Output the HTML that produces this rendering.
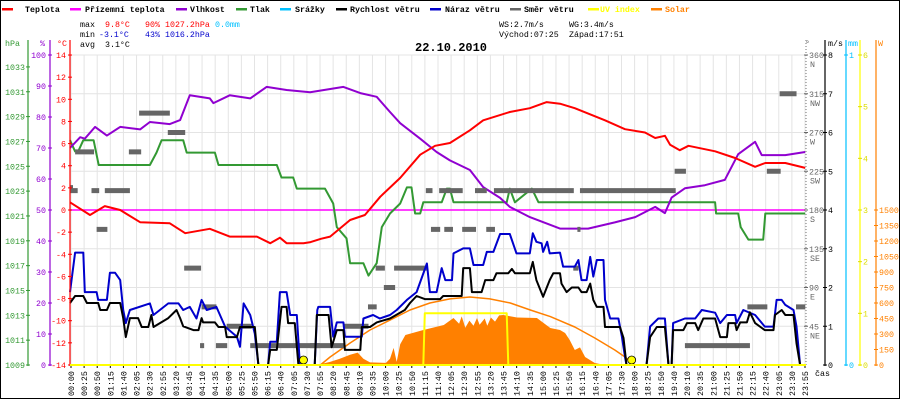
<!DOCTYPE html>
<html><head><meta charset="utf-8"><style>
html,body{margin:0;padding:0;background:#fff;}
svg{display:block;font-family:"Liberation Mono",monospace;}
</style></head><body>
<svg id="chart" width="900" height="400" viewBox="0 0 900 400" xmlns="http://www.w3.org/2000/svg">
<rect x="0.5" y="0.5" width="899" height="398" fill="#fff" stroke="#000"/>
<g id="grid"></g>
<g id="series"></g>
<g id="axes"></g>
<g font-size="8.3" font-weight="bold">
 <g><rect x="2" y="8" width="11" height="2.5" fill="#f00"/><text x="25" y="12">Teplota</text></g>
 <g><rect x="70" y="8" width="11" height="2.5" fill="#f0f"/><text x="85" y="12">Přízemní teplota</text></g>
 <g><rect x="176" y="8" width="11" height="2.5" fill="#9000d0"/><text x="190" y="12">Vlhkost</text></g>
 <g><rect x="236" y="8" width="11" height="2.5" fill="#339933"/><text x="250" y="12">Tlak</text></g>
 <g><rect x="280" y="8" width="11" height="2.5" fill="#00c0ff"/><text x="295" y="12">Srážky</text></g>
 <g><rect x="336" y="8" width="11" height="2.5" fill="#000"/><text x="350" y="12">Rychlost větru</text></g>
 <g><rect x="430" y="8" width="11" height="2.5" fill="#0000cc"/><text x="445" y="12">Náraz větru</text></g>
 <g><rect x="510" y="8" width="11" height="2.5" fill="#666"/><text x="524" y="12">Směr větru</text></g>
 <g><rect x="588" y="8" width="11" height="2.5" fill="#ff0"/><text x="600" y="12" fill="#ff0">UV index</text></g>
 <g><rect x="651" y="8" width="11" height="2.5" fill="#ff8000"/><text x="665" y="12" fill="#ff8000">Solar</text></g>
</g>
<g font-size="8.3">
 <text x="80" y="27">max</text><text x="105" y="27" fill="#f00">9.8°C</text><text x="145" y="27" fill="#f00">90%</text><text x="165" y="27" fill="#f00">1027.2hPa</text><text x="215" y="27" fill="#00c0ff">0.0mm</text>
 <text x="80" y="37">min</text><text x="99" y="37" fill="#00c">-3.1°C</text><text x="145" y="37" fill="#00c">43%</text><text x="165" y="37" fill="#00c">1016.2hPa</text>
 <text x="80" y="47">avg</text><text x="105" y="47">3.1°C</text>
 <text x="499" y="27">WS:2.7m/s</text><text x="569" y="27">WG:3.4m/s</text>
 <text x="499" y="37">Východ:07:25</text><text x="569" y="37">Západ:17:51</text>
</g>
<text x="415" y="51" font-size="12" font-weight="bold">22.10.2010</text>
</svg>
<script>
const tempT=[0,39,68,98,137,195,225,273,312,365,391,410,423,456,470,490,508,547,576,606,645,684,713,742,781,807,859,898,931,957,986,1045,1084,1123,1143,1162,1172,1191,1208,1260,1299,1338,1358,1397,1436];
const tempV=[0.7,-0.45,0.35,0,-1.1,-1.2,-2.1,-1.7,-2.4,-2.4,-3.0,-2.5,-3.0,-3.0,-2.9,-2.6,-2.4,-0.9,-0.45,1.2,2.9,5.0,5.8,6.05,7.2,8.1,8.85,9.2,9.75,9.6,9.2,8.1,7.3,7.0,6.5,6.7,5.9,5.4,5.8,5.3,4.7,3.9,4.25,4.25,3.8];
const humT=[0,20,29,49,72,98,137,156,195,215,234,273,280,312,352,384,423,469,534,567,599,625,645,684,716,742,781,807,840,859,898,957,1012,1064,1104,1143,1162,1175,1201,1240,1279,1305,1338,1351,1397,1436];
const humV=[70,73.5,73,76.8,74,76.8,76,78.4,77.7,79,87,86,84.5,87,86,89.7,88.7,88,89.7,87.7,86.5,81.6,78,73,68.7,66,62.9,57.4,53.9,51,47.7,44,44,46,47.7,51,49,54,57,58,59.7,68,72,67.7,67.7,68.7];
const presT=[0,10,16,26,46,56,156,169,179,221,228,283,290,404,413,436,443,498,514,521,540,547,573,583,599,609,625,645,658,667,674,684,690,726,736,742,749,853,859,869,902,915,1260,1262,1305,1310,1325,1354,1358,1436];
const presV=[1027.1,1026.2,1026.2,1027.1,1027.1,1025.1,1025.1,1026.1,1027.1,1027.1,1026.1,1026.1,1025.1,1025.1,1024.1,1024.1,1023.2,1023.2,1022,1020.1,1019.2,1017.2,1017.2,1016.2,1017.2,1020.1,1021.2,1022,1023.3,1023.3,1021.2,1021.2,1022.1,1022.1,1023.2,1023.2,1022.1,1022.1,1023.2,1022.1,1023.2,1022.1,1022.1,1021.2,1021.2,1020.1,1019.1,1019.1,1021.2,1021.2];
const windT=[0,10,26,33,55,59,72,78,98,104,109,117,133,140,153,159,163,192,208,215,221,241,251,257,260,283,290,303,306,326,332,361,368,387,391,404,413,423,426,439,446,478,482,505,511,521,534,537,567,570,586,599,625,654,664,677,693,723,729,765,768,781,785,804,811,827,833,856,863,869,898,904,911,924,937,944,957,960,970,980,993,999,1009,1016,1022,1029,1042,1045,1074,1081,1087,1126,1133,1146,1162,1169,1175,1178,1198,1205,1221,1227,1237,1260,1270,1283,1286,1299,1302,1309,1322,1328,1338,1357,1374,1377,1390,1397,1413,1419,1426];
const windV=[1.6,1.78,1.78,1.6,1.6,1.42,1.42,1.6,1.6,1.21,0.72,1.21,1.21,0.98,0.98,1.29,0.98,1.21,1.42,1.21,1.0,0.9,0.9,1.21,1.1,1.1,0.98,0.98,0.72,0.72,0.98,0.98,0,0,0.39,0.39,1.5,1.5,1.08,1.08,0,0,1.29,1.29,0.46,0.9,0.9,0.39,0.39,0.98,0.98,1.1,1.2,1.42,1.6,1.78,1.7,1.7,1.78,1.78,2.5,2.5,1.88,1.88,2.19,2.19,2.37,2.37,2.48,2.37,2.37,2.66,2.19,1.76,2.19,2.37,2.37,2.1,1.88,2.0,2.0,1.88,1.88,2.1,1.68,1.5,1.5,0.98,0.98,0.7,0,0,0.72,0.98,0.98,0,0,0.9,0.9,1.08,1.08,0.9,1.2,1.2,0.72,0.72,1.08,1.08,0.9,1.1,1.1,1.36,1.08,0.9,0.9,1.29,1.42,1.29,1.29,0.56,0];
const gustT=[0,10,26,29,52,55,72,78,88,98,104,109,117,156,163,192,212,221,234,247,257,267,286,303,326,332,339,352,361,368,387,391,404,410,423,430,443,449,478,483,485,508,514,521,534,537,570,573,592,605,625,638,658,677,697,703,716,726,733,746,749,768,781,788,807,814,827,840,859,872,898,904,911,921,924,932,937,957,963,986,993,999,1009,1016,1022,1029,1042,1045,1055,1071,1078,1084,1087,1126,1133,1149,1162,1169,1175,1178,1201,1221,1234,1260,1270,1283,1299,1302,1315,1338,1357,1374,1380,1390,1397,1413,1419,1426];
const gustV=[1.88,2.9,2.9,1.88,1.88,1.68,1.68,2.38,2.38,2.19,1.42,1.08,1.42,1.59,1.29,1.59,1.59,1.42,1.5,1.2,1.68,1.42,1.5,0.99,0.73,0.47,1.59,1.29,0.81,0,0,0.6,0.6,1.88,1.88,1.29,1.29,0,0,1.42,1.5,1.5,0.73,1.1,1.1,0.73,0.73,1.2,1.29,1.2,1.29,1.42,1.68,1.88,2.62,1.88,1.88,2.5,2.19,2.19,2.88,3.01,3.01,2.58,2.58,2.92,2.92,3.38,3.38,2.88,2.88,3.4,3.18,3.14,2.92,3.18,2.88,2.9,2.54,2.54,2.71,2.19,2.19,2.79,2.28,2.71,2.71,1.68,1.2,1.2,0.73,0.21,0,0,0.99,1.2,1.2,0,0,1.08,1.2,1.2,1.42,1.35,1.08,1.29,1.29,1.08,1.42,1.29,0.99,0.99,1.68,1.68,1.55,1.42,0.99,0];
const dirStart=[0,0,10,42,52,68,115,135,191,223,254,257,285,306,352,469,534,582,597,613,633,695,705,721,731,766,791,813,828,996,983,991,1181,1201,1323,1361,1386,1418];
const dirEnd=[5,15,47,57,73,117,139,195,225,256,262,286,307,355,488,537,583,599,615,635,697,708,723,767,748,793,814,830,984,1183,993,997,1203,1328,1362,1388,1419,1436];
const dirDeg=[206,202.5,247.5,202.5,157.5,202.5,247.5,292.5,270,112.5,22.5,67.5,22.5,45,22.5,22.5,45,67.5,112.5,90,112.5,202.5,157.5,202.5,157.5,157.5,202.5,157.5,202.5,202.5,112.5,157.5,225,22.5,67.5,225,315,67.5];
const solT=[480,490,508,527,547,562,573,586,617,625,632,638,645,655,690,730,749,760,765,772,780,788,795,800,810,815,822,830,838,846,873,912,938,957,967,976,986,996,1006,1025,1045];
const solV=[0,10,30,60,100,120,60,25,20,60,165,30,200,290,339,387,455,400,470,360,430,380,455,390,450,380,460,420,480,484,460,455,358,339,310,242,145,170,77,19,0];
const theoT=[489,508,547,586,625,664,703,742,781,820,860,899,938,986,1025,1064,1084,1103];
const theoV=[0,77,213,339,435,532,600,640,658,640,600,532,468,368,261,145,77,0];
const uvT=[0,690,693,853,856,1436];
const uvV=[0,0,1,1,0,0];
const groundT=[0,1436];
const groundV=[0,0];
const timeLabels=["00:00","00:25","00:50","01:15","01:40","02:05","02:30","02:55","03:20","03:45","04:10","04:35","05:00","05:25","05:50","06:15","06:40","07:05","07:30","07:55","08:20","08:45","09:10","09:35","10:00","10:25","10:50","11:15","11:40","12:05","12:30","12:55","13:20","13:45","14:10","14:35","15:00","15:25","15:50","16:15","16:40","17:05","17:30","18:00","18:25","18:50","19:40","20:10","20:35","21:00","21:25","21:50","22:15","22:40","23:05","23:30","23:55"];
const hpaTicks=[1009,1011,1013,1015,1017,1019,1021,1023,1025,1027,1029,1031,1033];
const pctTicks=[0,10,20,30,40,50,60,70,80,90,100];
const degCTicks=[-14,-12,-10,-8,-6,-4,-2,0,2,4,6,8,10,12,14];
const dirTicks=[45,90,135,180,225,270,315,360];
const dirNames=["NE","E","SE","S","SW","W","NW","N"];
const msTicks=[0,1,2,3,4,5,6,7,8];
const uvTicks=[0,1,2,3,4,5,6];
const wTicks=[0,150,300,450,600,750,900,1050,1200,1350,1500];

const NS="http://www.w3.org/2000/svg";
const X=m=>70+m*0.512;
const yT=t=>210-t*11.07, yH=h=>365-h*3.1, yP=p=>365-(p-1009)*12.42, yW=w=>365-w*38.75;
const yD=d=>365-d*310/360, yS=s=>365-s*155/1500, yU=u=>365-u*310/6, yR=r=>365-r*310;
function el(tag,attrs,parent){const e=document.createElementNS(NS,tag);for(const k in attrs)e.setAttribute(k,attrs[k]);parent.appendChild(e);return e;}
const grid=document.getElementById('grid'),ser=document.getElementById('series'),ax=document.getElementById('axes');
// grid
for(let i=0;i<timeLabels.length;i++){const x=71+i*734/56;
 const g=el('line',{x1:x,x2:x,y1:55,y2:365,stroke:'#e4e4e4'},grid);
 
 
 const tk=el('line',{x1:x,x2:x,y1:365,y2:368,stroke:'#000'},ax);
 
 
 const t=el('text',{x:0,y:0,'font-size':8.3,transform:`translate(${x+3},396) rotate(-90)`},ax);
 t.textContent=timeLabels[i];
 
 
}
for(const d of dirTicks){const y=yD(d);
 const g=el('line',{x1:70,x2:806,y1:y,y2:y,stroke:'#e4e4e4'},grid);
 
 
}
function line(T,V,fy,color,name,w){
 const pts=T.map((t,i)=>X(t).toFixed(1)+','+fy(V[i]).toFixed(1)).join(' ');
 const p=el('polyline',{points:pts,fill:'none',stroke:color,'stroke-width':w||2,'stroke-linejoin':'round'},ser);
 
 
}
// solar area
{const pts=[X(solT[0])+',365'].concat(solT.map((t,i)=>X(t).toFixed(1)+','+yS(solV[i]).toFixed(1))).concat([X(solT[solT.length-1])+',365']).join(' ');
 const p=el('polygon',{points:pts,fill:'#ff8000'},ser);
 
 }
line(theoT,theoV,yS,'#ff8000','solar-theoretical-line',1.5);
line(groundT,groundV,yT,'#ff00ff','ground-temperature-line',1.5);
line(presT,presV,yP,'#339933','pressure-line');
line(humT,humV,yH,'#9000d0','humidity-line');
line(tempT,tempV,yT,'#ff0000','temperature-line');
for(let i=0;i<dirStart.length;i++){const y=yD(dirDeg[i]);
 const r=el('rect',{x:X(dirStart[i]),y:y-2.5,width:Math.max(3,X(dirEnd[i])-X(dirStart[i])),height:5,fill:'#666'},ser);
 
 }
line(gustT,gustV,yW,'#0000cc','wind-gust-line');
line(windT,windV,yW,'#000000','wind-speed-line');
line(uvT,uvV,yU,'#ffff00','uv-index-line',2);
{const r=el('line',{x1:X(693),x2:X(853),y1:365,y2:365,stroke:'#00c0ff','stroke-width':2},ser);
 
 }
for(const m of [456,1097]){const c=el('circle',{cx:X(m),cy:360,r:4,fill:'#ffff00',stroke:'#000','stroke-width':0.8},ser);
 
 }
// axes
function vaxis(x,color,name,y1,dash){const a=el('line',{x1:x,x2:x,y1:y1,y2:366,stroke:color,'stroke-width':1.2},ax);if(dash)a.setAttribute('stroke-dasharray','1,2');
 
 }
vaxis(28,'#339933','hpa-axis',40);vaxis(50,'#9000d0','humidity-axis',40);vaxis(70,'#ff0000','temperature-axis',40);
vaxis(806,'#888','direction-axis',40,true);vaxis(825,'#000','wind-axis',40);vaxis(846,'#00c0ff','rain-axis',40);vaxis(860,'#ffff00','uv-axis',40);vaxis(876,'#ff8000','solar-axis',40);
function ticks(arr,fy,xAxis,color,tx,anchor,name,lab){
 arr.forEach((v,i)=>{const y=fy(v);
  const tk=el('line',{x1:xAxis-2,x2:xAxis+2,y1:y,y2:y,stroke:color},ax);
  
  
  const t=el('text',{x:tx,y:y+3,fill:color,'font-size':8.3,'text-anchor':anchor},ax);
  t.textContent=lab?lab[i]:v;
  
  });
}
ticks(hpaTicks,yP,28,'#339933',25,'end','hpa');
ticks(pctTicks,yH,50,'#9000d0',46,'end','humidity');
ticks(degCTicks,yT,70,'#ff0000',66,'end','temperature');
ticks(dirTicks,yD,806,'#666',809,'start','direction');
dirTicks.forEach((d,i)=>{const t=el('text',{x:810,y:yD(d)+12,fill:'#666','font-size':8.3},ax);t.textContent=dirNames[i];
 
 });
ticks(msTicks,yW,825,'#000',828,'start','wind');
ticks([0,1],yR,846,'#00c0ff',849,'start','rain');
ticks(uvTicks,yU,860,'#dddd00',863,'start','uv');
ticks(wTicks,yS,876,'#ff8000',879,'start','solar');
const bl=el('line',{x1:70,x2:806,y1:365,y2:365,stroke:'#ffff00','stroke-width':2},ax);


const titles=[["hPa",5,'#339933'],["%",40,'#9000d0'],["°C",57,'#f00'],["°",805,'#666'],["m/s",828,'#000'],["mm",848,'#00c0ff'],["W",878,'#ff8000'],["čas",815,'#000']];
titles.forEach(a=>{const t=el('text',{x:a[1],y:a[0]==="čas"?376:46,fill:a[2],'font-size':8.3},ax);t.textContent=a[0];
 
 });
</script>
</body></html>
